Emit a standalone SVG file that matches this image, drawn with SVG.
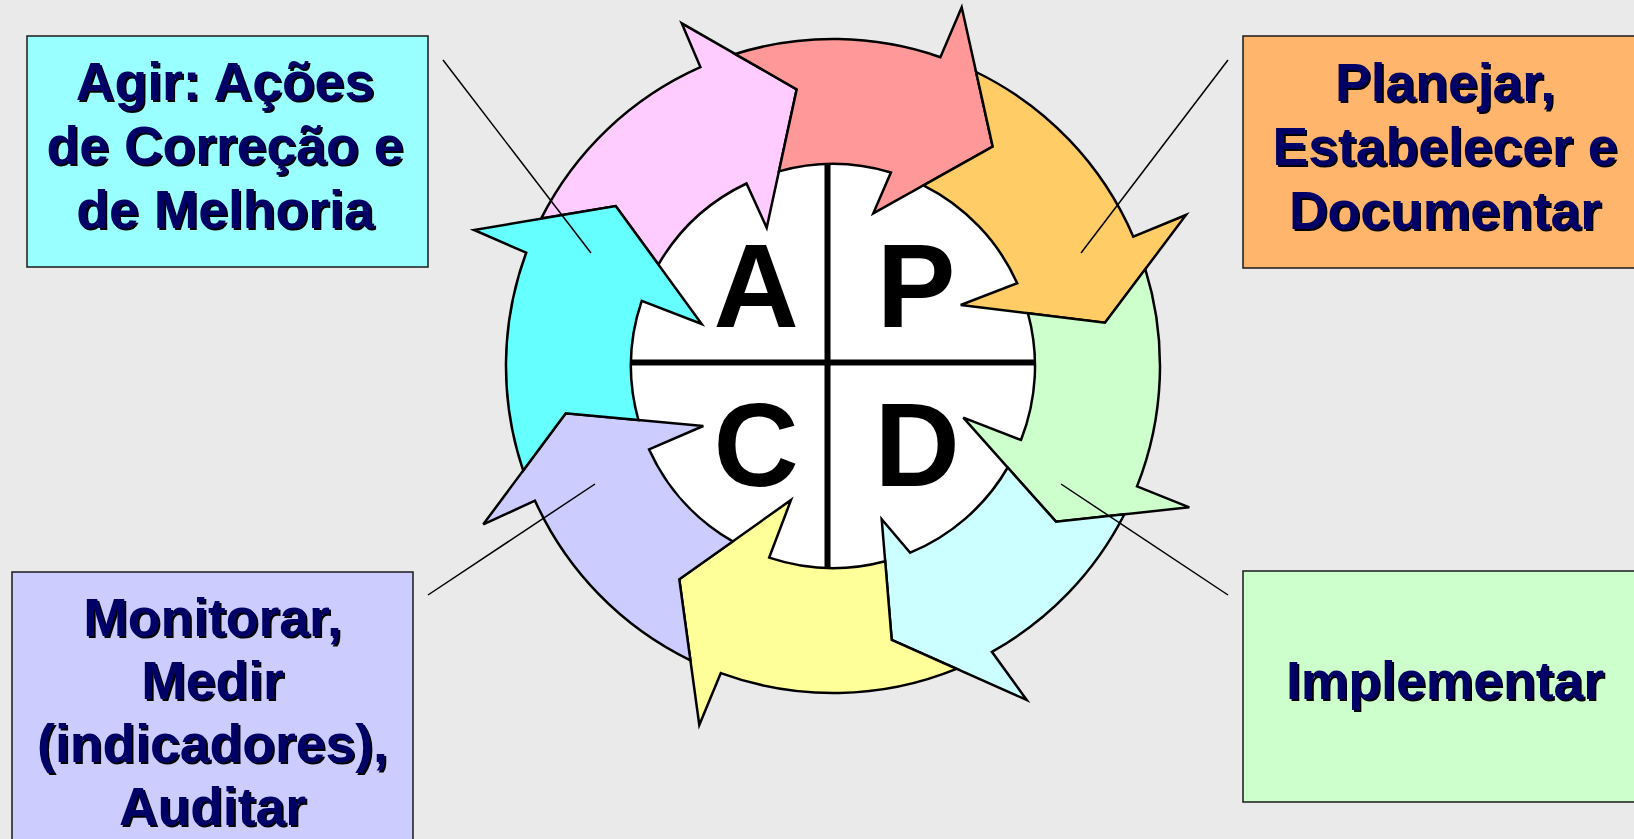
<svg xmlns="http://www.w3.org/2000/svg" width="1634" height="839" viewBox="0 0 1634 839">
<style>
.box{stroke:#1a1a1a;stroke-width:1.5}
.lbl{font-family:"Liberation Sans",Arial,sans-serif;font-weight:bold;font-size:53.5px;fill:#000066;text-anchor:middle;filter:url(#sh)}
.arw{stroke:#000;stroke-width:2.5;stroke-linejoin:miter}
.big{font-family:"Liberation Sans",Arial,sans-serif;font-weight:bold;font-size:118px;fill:#000;text-anchor:middle}
.lead{stroke:#000;stroke-width:1.5;fill:none}
</style>
<defs>
<filter id="sh" x="-5%" y="-10%" width="110%" height="130%">
<feOffset in="SourceAlpha" dx="2.2" dy="2.2" result="o"/>
<feMerge><feMergeNode in="o"/><feMergeNode in="SourceGraphic"/></feMerge>
</filter>
</defs>
<rect x="0" y="0" width="1634" height="839" fill="#eaeaea"/>

<g id="box-agir">
<rect class="box" x="27" y="36" width="401" height="231" fill="#99ffff"/>
<text class="lbl" x="225" y="100">Agir: Ações</text>
<text class="lbl" x="225" y="164">de Correção e</text>
<text class="lbl" x="225" y="228">de Melhoria</text>
</g>
<g id="box-planejar">
<rect class="box" x="1243" y="36" width="404" height="232" fill="#ffb56b"/>
<text class="lbl" x="1445" y="101">Planejar,</text>
<text class="lbl" x="1445" y="165">Estabelecer e</text>
<text class="lbl" x="1445" y="229">Documentar</text>
</g>
<g id="box-monitorar">
<rect class="box" x="12" y="572" width="401" height="300" fill="#ccccff"/>
<text class="lbl" x="212.5" y="636">Monitorar,</text>
<text class="lbl" x="212.5" y="699">Medir</text>
<text class="lbl" x="212.5" y="762">(indicadores),</text>
<text class="lbl" x="212.5" y="825">Auditar</text>
</g>
<g id="box-implementar">
<rect class="box" x="1243" y="571" width="404" height="231" fill="#ccffcc"/>
<text class="lbl" x="1445" y="699">Implementar</text>
</g>

<g id="center">
<circle cx="833" cy="366" r="202" fill="#fff"/>
<line x1="827.5" y1="164" x2="827.5" y2="568" stroke="#000" stroke-width="6"/>
<line x1="631" y1="362.5" x2="1035" y2="362.5" stroke="#000" stroke-width="6"/>
</g>

<g id="arrow-pink"><path class="arw" fill="#ffccff" d="M541.1,218.6 A327,327 0 0 1 700.4,67.1 L681.7,23.3 L796.7,89.3 L766.7,227.7 L746.5,183.5 A202,202 0 0 0 658.4,264.5 L615.7,206 Z"/></g>
<g id="arrow-red"><path class="arw" fill="#ff9999" d="M735.2,54 A327,327 0 0 1 940.4,57.2 L961.7,7.3 L992.7,146.7 L873.3,213.3 L890.9,172.5 A202,202 0 0 0 778.9,171.4 L796.7,89.3 Z"/></g>
<g id="arrow-orange"><path class="arw" fill="#ffcc66" d="M976.1,72 A327,327 0 0 1 1133.3,236.7 L1186,215 L1105,322.7 L960.7,305 L1017.2,283.2 A202,202 0 0 0 923.4,185.4 L992.7,146.7 Z"/></g>
<g id="arrow-green"><path class="arw" fill="#ccffcc" d="M1145.3,269.1 A327,327 0 0 1 1137,486.4 L1189.3,507.3 L1056,521.7 L963.3,417.7 L1021,440 A202,202 0 0 0 1028,313.3 L1105,322.7 Z"/></g>
<g id="arrow-lightcyan"><path class="arw" fill="#ccffff" d="M1124.4,514.3 A327,327 0 0 1 991.9,651.8 L1026.7,700 L891.7,640 L881.7,519.3 L910.2,552.7 A202,202 0 0 0 1007.7,467.5 L1056,521.7 Z"/></g>
<g id="arrow-yellow"><path class="arw" fill="#ffff99" d="M956.5,668.8 A327,327 0 0 1 720.8,673.1 L699.3,725 L679.3,579.3 L791,500 L769.2,557.6 A202,202 0 0 0 885.2,561.2 L891.7,640 Z"/></g>
<g id="arrow-lavender"><path class="arw" fill="#ccccff" d="M690.4,660.3 A327,327 0 0 1 535,500.7 L483.3,524.3 L565.7,413.3 L703.3,426 L649.1,449.4 A202,202 0 0 0 732.7,541.4 L679.3,579.3 Z"/></g>
<g id="arrow-cyan"><path class="arw" fill="#66ffff" d="M523.2,470.6 A327,327 0 0 1 526.2,252.7 L474,230 L615.7,206 L701.7,324 L641.7,300.9 A202,202 0 0 0 638.4,420 L565.7,413.3 Z"/></g>

<g id="letters">
<text class="big" x="756" y="327">A</text>
<text class="big" x="916" y="327">P</text>
<text class="big" x="756" y="486">C</text>
<text class="big" x="917" y="486">D</text>
</g>

<g id="connectors">
<line class="lead" x1="443" y1="60" x2="591" y2="253"/>
<line class="lead" x1="1228" y1="60" x2="1081" y2="253"/>
<line class="lead" x1="1061" y1="484" x2="1228" y2="595"/>
<line class="lead" x1="595" y1="484" x2="428" y2="595"/>
</g>
</svg>
